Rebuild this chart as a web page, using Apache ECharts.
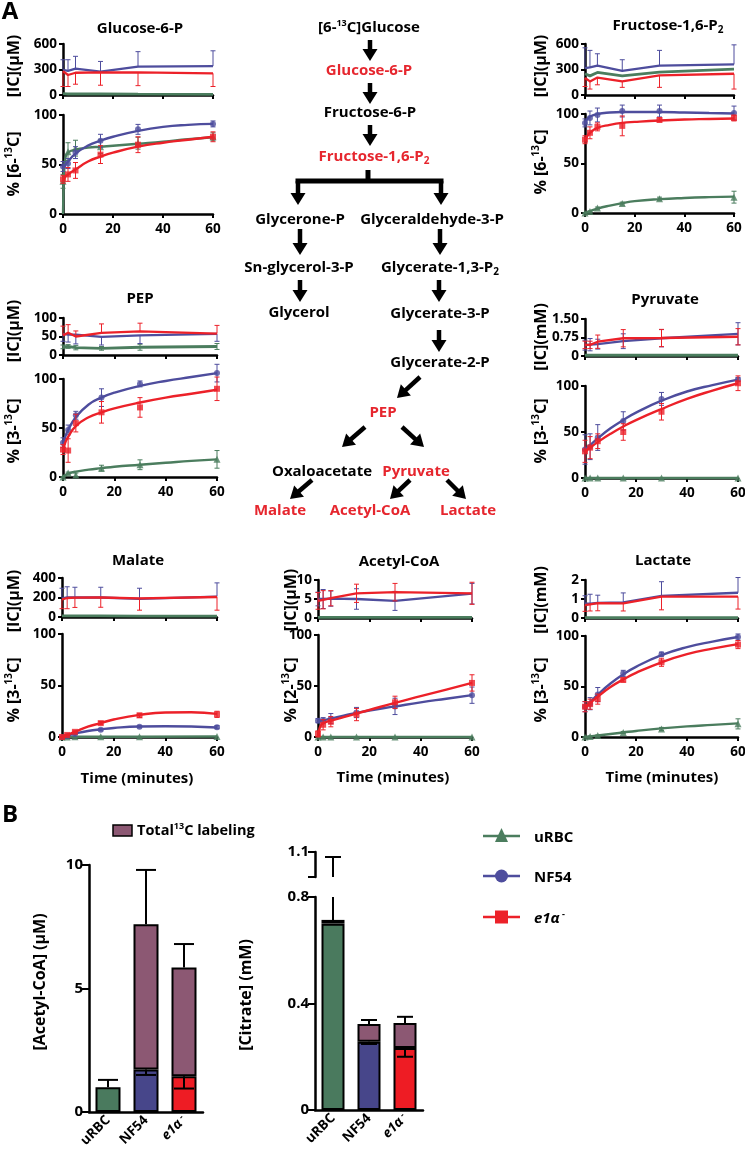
<!DOCTYPE html>
<html><head><meta charset="utf-8">
<script src="https://cdn.jsdelivr.net/npm/echarts@6/dist/echarts.min.js"></script>
<style>html,body{margin:0;padding:0;background:#fff}#c{width:745px;height:1152px}</style>
</head><body><div id="c"></div>
<script>
// ---------------- DATA ----------------
const T = [0, 2, 5, 15, 30, 60];
const FT = [0, 0.5, 1, 2, 5, 10, 15, 20, 30, 40, 50, 60];

// Glucose-6-P
const g6pIcU = [15, 12, 12, 12, 10, 8];
const g6pIcN = [295, 285, 310, 275, 335, 340];
const g6pIcNErr = [120, 130, 145, 120, 175, 180];
const g6pIcE = [280, 235, 262, 265, 265, 255];
const g6pIcEErr = [180, 135, 135, 150, 155, 155];
const g6pLabU = [33, 63, 66.5, 68, 71.5, 78];
const g6pLabUErr = [7, 9, 8, 7, 6, 4];
const g6pLabN = [48, 51, 62, 74, 85.5, 91];
const g6pLabNErr = [5, 5, 6, 6.5, 5, 3];
const g6pLabE = [35, 40, 44, 60, 70, 78];
const g6pLabEErr = [4, 7, 8, 9, 8, 5];
const g6pFitU = [0, 45, 57, 62, 65, 67, 68, 69, 71, 73, 75.5, 77.5];
const g6pFitN = [47, 48, 50, 53, 61, 69, 74, 78, 84, 88, 90, 91];
const g6pFitE = [34, 36, 38, 40, 45, 53, 58, 62, 68, 72, 75, 78];

// Fructose-1,6-P2
const f16IcU = [250, 225, 265, 225, 270, 305];
const f16IcN = [315, 325, 345, 285, 345, 360];
const f16IcNErr = [240, 200, 140, 130, 180, 230];
const f16IcE = [200, 160, 205, 160, 230, 250];
const f16IcEErr = [100, 90, 85, 70, 140, 180];
const f16LabU = [0, 1.5, 5, 9.5, 14.5, 16];
const f16LabUErr = [0, 0.5, 1, 1.5, 1.5, 6];
const f16LabN = [91, 96, 99, 103, 103, 101];
const f16LabNErr = [4, 7, 7, 6, 6, 7];
const f16LabE = [74, 81, 87, 88, 94, 96];
const f16LabEErr = [4, 6, 4, 10, 2, 3];
const f16FitU = [0, 0.5, 1, 2, 4.5, 7.5, 10, 12, 14, 15.2, 16, 16.5];
const f16FitN = [90, 93, 95, 97.5, 100, 101.5, 102, 102, 102, 101.5, 101, 100.5];
const f16FitE = [73, 76, 78, 81, 86, 89, 91, 92, 93.5, 94.5, 95, 95.5];

// PEP
const pepIcU = [22, 23, 20, 18, 21, 23];
const pepIcUErr = [5, 5, 6, 5, 8, 8];
const pepIcN = [57, 55, 55, 49, 53, 57];
const pepIcNErr = [20, 20, 25, 22, 22, 20];
const pepIcE = [53, 60, 50, 60, 64, 58];
const pepIcEErr = [25, 22, 15, 24, 22, 22];
const pepLabU = [0, 4, 2, 9, 12.5, 18];
const pepLabUErr = [0, 1, 2, 3, 5, 9];
const pepLabN = [35, 48, 63, 81, 95, 106];
const pepLabNErr = [5, 5, 4, 9, 3, 9];
const pepLabE = [28, 27, 55, 66, 71, 90];
const pepLabEErr = [5, 12, 9, 11, 10, 12];
const pepFitU = [0, 1, 2, 3.5, 5.5, 7.5, 9, 10.5, 12.5, 14.5, 16.5, 18];
const pepFitN = [30, 37, 42, 48, 61, 74, 81, 86, 93, 98, 102, 106];
const pepFitE = [25, 32, 36, 41, 52, 61, 66, 70, 76, 81, 85, 89];

// Pyruvate
const pyrIcU = [0.03, 0.03, 0.03, 0.03, 0.03, 0.03];
const pyrIcN = [0.44, 0.46, 0.48, 0.6, 0.72, 0.9];
const pyrIcNErr = [0.2, 0.25, 0.2, 0.3, 0.35, 0.45];
const pyrIcE = [0.45, 0.45, 0.58, 0.72, 0.73, 0.78];
const pyrIcEErr = [0.15, 0.15, 0.27, 0.35, 0.35, 0.33];
const pyrLabU = [0, 0, 0, 0, 0, 0];
const pyrLabN = [31, 34, 44, 62, 86, 107];
const pyrLabNErr = [16, 14, 14, 10, 7, 2];
const pyrLabE = [29, 33, 40, 50, 72, 103];
const pyrLabEErr = [12, 12, 8, 9, 9, 8];
const pyrFitN = [30, 31.5, 33, 35.5, 43, 54, 63, 71, 84, 94, 101, 107];
const pyrFitE = [28, 29.5, 31, 33, 39, 48, 56, 63, 75, 86, 95, 103];

// Malate
const malIcU = [12, 12, 12, 12, 10, 10];
const malIcN = [190, 200, 200, 200, 185, 210];
const malIcNErr = [105, 110, 105, 105, 110, 140];
const malIcE = [180, 195, 198, 200, 190, 205];
const malIcEErr = [95, 110, 100, 100, 120, 135];
const malLabU = [0, 0, 0.2, 0.3, 0.3, 0.5];
const malLabN = [0, 1, 3, 7, 10, 9.5];
const malLabNErr = [0.3, 0.5, 0.5, 1, 1, 1.5];
const malLabE = [0, 2, 5, 13.5, 21, 22];
const malLabEErr = [0.5, 0.5, 1, 1.5, 2, 3];
const malFitN = [0, 0.3, 0.7, 1.4, 3.3, 5.8, 7.5, 8.8, 10.2, 10.5, 10.2, 9.2];
const malFitE = [0, 0.4, 0.9, 2, 5, 10, 13.5, 17, 21.5, 23.8, 24, 22.5];

// Acetyl-CoA
const acIcU = [0.15, 0.15, 0.15, 0.15, 0.15, 0.15];
const acIcN = [5, 5, 5.1, 5, 4.5, 6.4];
const acIcNErr = [1.8, 2.5, 2, 2.7, 2.5, 2.7];
const acIcE = [4.5, 4.8, 5.2, 6.5, 6.8, 6.5];
const acIcEErr = [2.2, 2.4, 2, 2.4, 2.3, 2.9];
const acLabU = [0, 0, 0, 0, 0, 0];
const acLabN = [16, 16, 18, 24, 30, 41];
const acLabNErr = [2, 3, 5, 5, 8, 8];
const acLabE = [3, 12, 15, 22, 34, 53];
const acLabEErr = [3, 5, 5, 6, 6, 8];
const acFitN = [15, 15.5, 16, 16.5, 18, 21, 23.5, 26, 30, 34, 37.5, 41];
const acFitE = [0, 7, 11, 13.5, 16, 19.5, 23, 26.5, 33.5, 40, 46.5, 53];

// Lactate
const lacIcU = [0.02, 0.02, 0.02, 0.02, 0.02, 0.02];
const lacIcN = [0.75, 0.75, 0.8, 0.82, 1.16, 1.33];
const lacIcNErr = [0.42, 0.5, 0.4, 0.5, 0.75, 0.8];
const lacIcE = [0.68, 0.72, 0.78, 0.77, 1.13, 1.13];
const lacIcEErr = [0.33, 0.35, 0.4, 0.4, 0.7, 0.66];
const lacLabU = [0, 0.5, 1.5, 4.5, 8, 13];
const lacLabUErr = [0, 0.5, 0.5, 1, 1.5, 5];
const lacLabN = [30, 33, 42, 63, 82, 99];
const lacLabNErr = [5, 6, 7, 3, 2, 3];
const lacLabE = [30, 32.5, 37.5, 56.5, 74, 91.5];
const lacLabEErr = [5, 5, 5, 2, 4, 4];
const lacFitU = [0, 0.1, 0.3, 0.6, 1.5, 3, 4.5, 6, 8.5, 10.5, 12, 13.5];
const lacFitN = [29, 30.5, 32, 34.5, 42, 53, 62, 69.5, 81, 89, 94.5, 99];
const lacFitE = [29, 30.5, 31.5, 33.5, 40, 49.5, 57, 63.5, 74, 82, 87.5, 92];

// Panel B
const barCats = ['uRBC', 'NF54', 'e1α'];
const acUnlab = [1.0, 1.72, 1.45];
const acUnlabErr = [0, 0.22, 0.5];
const acLab = [0, 5.88, 4.4];
const acTotalErr = [0.3, 2.2, 0.95];
const citUnlab = [0.70, 0.256, 0.233];
const citUnlabErr = [0, 0.008, 0.033];
const citLab = [0.014, 0.067, 0.094];
const citTotalErr = [0.366, 0.015, 0.023];

// ---------------- STYLE / LAYOUT ----------------
const FONT = 'Open Sans';
const COL = {u:'#4b7d5e', n:'#4e4d9d', e:'#ec2129'};
const BARC = ['#4a7a5e', '#47468a', '#ee1c24'];
const PUR = '#8c5873';
const RED = '#e6262e';
const SYM = {u:'triangle', n:'circle', e:'rect'};
const SYMS = {u:7, n:6, e:6};
const ZO = {u:3, n:4, e:5};
const TS = 15;   // text size
const NS = 16;   // axis-name size

function merge(a, b) {
  const r = Object.assign({}, a);
  for (const k in b) {
    if (b[k] && typeof b[k] === 'object' && !Array.isArray(b[k]) && a[k] && typeof a[k] === 'object') r[k] = merge(a[k], b[k]);
    else r[k] = b[k];
  }
  return r;
}
const axisBase = {
  axisLine:{show:true, onZero:false, lineStyle:{color:'#000', width:2.5}},
  axisTick:{show:true, length:4, lineStyle:{color:'#000', width:2}},
  splitLine:{show:false},
  axisLabel:{color:'#000', fontFamily:FONT, fontWeight:'bold', fontSize:13.5, margin:6}
};
const grids = [], xAxes = [], yAxes = [], series = [];
function addGrid(rect, xo, yo) {
  const i = grids.length;
  grids.push({left:rect[0], top:rect[1], width:rect[2], height:rect[3], outerBoundsMode:'none', containLabel:false});
  xAxes.push(merge(merge(axisBase, {gridIndex:i}), xo));
  yAxes.push(merge(merge(axisBase, {gridIndex:i}), yo));
  return i;
}
function errData(xs, vals, errs, side) {
  return xs.map((t, k) => {
    const v = vals[k], e = errs[k];
    const lo = side === 'up' ? v : v - e;
    const hi = side === 'down' ? v : v + e;
    return [t, lo, hi, side !== 'up' ? 1 : 0, side !== 'down' ? 1 : 0];
  });
}
function errSeries(gi, data, color, w, lw, z) {
  return {type:'custom', xAxisIndex:gi, yAxisIndex:gi, data, clip:false, z, silent:true,
    renderItem:(params, api) => {
      const x = api.value(0), lo = api.value(1), hi = api.value(2);
      const a = api.coord([x, lo]), b = api.coord([x, hi]);
      const st = {stroke:color, lineWidth:lw};
      const ch = [{type:'line', shape:{x1:a[0], y1:a[1], x2:b[0], y2:b[1]}, style:st}];
      if (api.value(3)) ch.push({type:'line', shape:{x1:a[0]-w, y1:a[1], x2:a[0]+w, y2:a[1]}, style:st});
      if (api.value(4)) ch.push({type:'line', shape:{x1:b[0]-w, y1:b[1], x2:b[0]+w, y2:b[1]}, style:st});
      return {type:'group', children:ch};
    }};
}

const panels = [
  {title:'{m|Glucose-6-P}', tx:140, ty:29, lx:14, icLy:66, labLy:164, up:[63,44,150,51], lo:[63,115,150,99],
   icMax:600, icInt:300, icName:'[IC](µM)', iso:'6', time:null,
   ic:{u:[g6pIcU,null,null], n:[g6pIcN,g6pIcNErr,'up'], e:[g6pIcE,g6pIcEErr,'down']},
   lab:{u:[g6pLabU,g6pLabUErr,g6pFitU], n:[g6pLabN,g6pLabNErr,g6pFitN], e:[g6pLabE,g6pLabEErr,g6pFitE]}},
  {title:'{m|Fructose-1,6-P}{b|2}', tx:668, ty:26, lx:541, icLy:66, labLy:162, up:[585,44,149,51], lo:[585,114,149,99],
   icMax:600, icInt:300, icName:'[IC](µM)', iso:'6', time:null,
   ic:{u:[f16IcU,null,null], n:[f16IcN,f16IcNErr,'up'], e:[f16IcE,f16IcEErr,'down']},
   lab:{u:[f16LabU,f16LabUErr,f16FitU], n:[f16LabN,f16LabNErr,f16FitN], e:[f16LabE,f16LabEErr,f16FitE]}},
  {title:'{m|PEP}', tx:140, ty:299, lx:14, icLy:331, labLy:431, up:[63,318,154,37], lo:[63,379,154,98],
   icMax:100, icInt:50, icName:'[IC](µM)', iso:'3', time:null,
   ic:{u:[pepIcU,pepIcUErr,'both'], n:[pepIcN,pepIcNErr,'down'], e:[pepIcE,pepIcEErr,'up']},
   lab:{u:[pepLabU,pepLabUErr,pepFitU], n:[pepLabN,pepLabNErr,pepFitN], e:[pepLabE,pepLabEErr,pepFitE]}},
  {title:'{m|Pyruvate}', tx:665, ty:300, lx:541, icLy:337, labLy:431, up:[585,319,153,37], lo:[585,386,153,92],
   icMax:1.5, icInt:0.75, icName:'[IC](mM)', iso:'3', time:null, icFmt:v => v === 0 ? '0' : v.toFixed(2),
   ic:{u:[pyrIcU,null,null], n:[pyrIcN,pyrIcNErr,'both'], e:[pyrIcE,pyrIcEErr,'both']},
   lab:{u:[pyrLabU,null,null], n:[pyrLabN,pyrLabNErr,pyrFitN], e:[pyrLabE,pyrLabEErr,pyrFitE]}},
  {title:'{m|Malate}', tx:138, ty:561, lx:14, icLy:601, labLy:690, up:[62,578,155,39], lo:[62,634,155,103],
   icMax:400, icInt:200, icName:'[IC](µM)', iso:'3', time:[137,779],
   ic:{u:[malIcU,null,null], n:[malIcN,malIcNErr,'up'], e:[malIcE,malIcEErr,'down']},
   lab:{u:[malLabU,null,null], n:[malLabN,malLabNErr,malFitN], e:[malLabE,malLabEErr,malFitE]}},
  {title:'{m|Acetyl-CoA}', tx:399, ty:562, lx:291, icLy:600, labLy:690, up:[318,580,154,38], lo:[318,635,154,102],
   icMax:10, icInt:5, icName:'[IC](µM)', iso:'2', time:[393,778],
   ic:{u:[acIcU,null,null], n:[acIcN,acIcNErr,'both'], e:[acIcE,acIcEErr,'both']},
   lab:{u:[acLabU,null,null], n:[acLabN,acLabNErr,acFitN], e:[acLabE,acLabEErr,acFitE]}},
  {title:'{m|Lactate}', tx:663, ty:561, lx:541, icLy:600, labLy:690, up:[585,580,153,38], lo:[585,636,153,101],
   icMax:2, icInt:1, icName:'[IC](mM)', iso:'3', time:[662,778],
   ic:{u:[lacIcU,null,null], n:[lacIcN,lacIcNErr,'up'], e:[lacIcE,lacIcEErr,'down']},
   lab:{u:[lacLabU,lacLabUErr,lacFitU], n:[lacLabN,lacLabNErr,lacFitN], e:[lacLabE,lacLabEErr,lacFitE]}}
];

const G = [];
function rich(size, color) {
  return {
    m:{fontSize:size, fontWeight:'bold', fontFamily:FONT, fill:color, lineHeight:size+4},
    s:{fontSize:Math.round(size*0.62), fontWeight:'bold', fontFamily:FONT, fill:color, verticalAlign:'top'},
    b:{fontSize:Math.round(size*0.68), fontWeight:'bold', fontFamily:FONT, fill:color, verticalAlign:'bottom'},
    i:{fontSize:size, fontWeight:'bold', fontStyle:'italic', fontFamily:FONT, fill:color, lineHeight:size+4}
  };
}
function txt(text, x, y, size, color, opts) {
  opts = opts || {};
  G.push({type:'text', x, y, rotation:opts.rot || 0, silent:true, z:10,
    style:{text, rich:rich(size, color), align:opts.align || 'center', verticalAlign:'middle', fill:color,
           fontSize:size, fontWeight:'bold', fontFamily:FONT}});
}

panels.forEach(p => {
  const gu = addGrid(p.up,
    {type:'value', min:0, max:60, interval:20, axisLabel:{show:false}},
    {type:'value', min:0, max:p.icMax, interval:p.icInt, axisLabel:p.icFmt ? {formatter:p.icFmt} : {}});
  const gl = addGrid(p.lo,
    {type:'value', min:0, max:60, interval:20, axisLabel:{margin:8}},
    {type:'value', min:0, max:100, interval:50});
  ['u','n','e'].forEach(s => {
    const [vals, errs, side] = p.ic[s];
    series.push({type:'line', xAxisIndex:gu, yAxisIndex:gu, data:T.map((t,k) => [t, vals[k]]), symbol:'none',
      lineStyle:{color:COL[s], width:s === 'u' ? 2.8 : 2.3}, itemStyle:{color:COL[s]}, z:ZO[s], clip:false, silent:true});
    if (errs) series.push(errSeries(gu, errData(T, vals, errs, side), COL[s], 2.5, 1, ZO[s]));
  });
  ['u','n','e'].forEach(s => {
    const [vals, errs, fit] = p.lab[s];
    series.push({type:'line', xAxisIndex:gl, yAxisIndex:gl,
      data: fit ? FT.map((t,k) => [t, fit[k]]) : T.map((t,k) => [t, vals[k]]),
      smooth: fit ? 0.5 : false, symbol:'none',
      lineStyle:{color:COL[s], width:2.4}, itemStyle:{color:COL[s]}, z:ZO[s], clip:false, silent:true});
    series.push({type:'scatter', xAxisIndex:gl, yAxisIndex:gl, data:T.map((t,k) => [t, vals[k]]),
      symbol:SYM[s], symbolSize:SYMS[s], itemStyle:{color:COL[s]}, z:ZO[s], clip:false, silent:true});
    if (errs) series.push(errSeries(gl, errData(T, vals, errs, 'both'), COL[s], 2.5, 1, ZO[s]));
  });
  txt(p.title, p.tx, p.ty, TS, '#000');
  txt('{m|' + p.icName + '}', p.lx, p.icLy, NS, '#000', {rot:Math.PI/2});
  txt('{m|% [' + p.iso + '-}{s|13}{m|C]}', p.lx, p.labLy, NS, '#000', {rot:Math.PI/2});
  if (p.time) txt('{m|Time (minutes)}', p.time[0], p.time[1], TS, '#000');
});

// ---------- Panel B bars ----------
const catLabel = {
  formatter: v => v === 'e1α' ? '{i|e1α}{s| -}' : '{m|' + v + '}',
  rotate:45, margin:6, interval:0,
  rich:{
    m:{fontSize:13.5, fontWeight:'bold', fontFamily:FONT, color:'#000'},
    i:{fontSize:13.5, fontWeight:'bold', fontStyle:'italic', fontFamily:FONT, color:'#000'},
    s:{fontSize:9, fontWeight:'bold', fontFamily:FONT, color:'#000', verticalAlign:'top'}
  }
};
function barSeries(gi, unlab, lab, bw, stack) {
  series.push({type:'bar', xAxisIndex:gi, yAxisIndex:gi, stack, barWidth:bw, silent:true,
    data:unlab.map((v,i) => ({value:v, itemStyle:{color:BARC[i]}})),
    itemStyle:{borderColor:'#000', borderWidth:2}});
  series.push({type:'bar', xAxisIndex:gi, yAxisIndex:gi, stack, barWidth:bw, silent:true,
    data:lab.map(v => v > 0 ? v : '-'),
    itemStyle:{color:PUR, borderColor:'#000', borderWidth:2}});
}
// Acetyl-CoA bars
const gA = addGrid([89, 865, 114, 247],
  {type:'category', data:barCats, axisTick:{show:false}, axisLabel:catLabel},
  {type:'value', min:0, max:10, interval:5, axisTick:{length:7}, axisLabel:{fontSize:15, margin:6}, axisLine:{lineStyle:{width:2.5}}});
barSeries(gA, acUnlab, acLab, 25, 'ac');
series.push(errSeries(gA, barCats.map((c,i) => { const tot = acUnlab[i] + acLab[i]; return [i, tot, tot + acTotalErr[i], 0, 1]; }), '#000', 10, 2, 6));
series.push(errSeries(gA, barCats.map((c,i) => [i, acUnlab[i] - acUnlabErr[i], acUnlab[i], acUnlabErr[i] > 0 ? 1 : 0, 0]).filter((d,i) => acUnlabErr[i] > 0), '#000', 10, 2, 6));

// Citrate bars (broken axis: lower 0-0.8, upper 1.0-1.1)
const CIT_LMAX = 0.8, CIT_UMIN = 1.0, CIT_UMAX = 1.1;
const gC = addGrid([315, 897, 108, 213],
  {type:'category', data:barCats, axisTick:{show:false}, axisLabel:catLabel},
  {type:'value', min:0, max:CIT_LMAX, interval:0.4, axisTick:{length:7}, axisLabel:{fontSize:15, margin:6, formatter:v => v === 0 ? '0' : v.toFixed(1)}, axisLine:{lineStyle:{width:2.5}}});
const gC2 = addGrid([315, 852, 108, 25],
  {type:'category', data:barCats, axisLine:{show:false}, axisTick:{show:false}, axisLabel:{show:false}},
  {type:'value', min:CIT_UMIN, max:CIT_UMAX, interval:0.1, axisTick:{length:7}, axisLine:{lineStyle:{width:2.5}},
   axisLabel:{fontSize:15, margin:6, formatter:v => Math.abs(v - CIT_UMAX) < 1e-6 ? '1.1' : ''}});
barSeries(gC, citUnlab, citLab, 23, 'cit');
const citLowErr = [], citUpErr = [];
barCats.forEach((c,i) => {
  const tot = citUnlab[i] + citLab[i], hi = tot + citTotalErr[i];
  if (hi > CIT_LMAX) { citLowErr.push([i, tot, CIT_LMAX, 0, 0]); citUpErr.push([i, CIT_UMIN, hi, 0, 1]); }
  else citLowErr.push([i, tot, hi, 0, 1]);
});
series.push(errSeries(gC, citLowErr, '#000', 8, 2, 6));
series.push(errSeries(gC2, citUpErr, '#000', 8, 2, 6));
series.push(errSeries(gC, barCats.map((c,i) => [i, citUnlab[i] - citUnlabErr[i], citUnlab[i], 1, 0]).filter((d,i) => citUnlabErr[i] > 0), '#000', 8, 2, 6));

// ---------- Texts and pathway ----------
txt('{m|A}', 10, 12, 24, '#000');
txt('{m|B}', 10, 815, 24, '#000');
txt('{m|[Acetyl-CoA] (µM)}', 40, 982, NS, '#000', {rot:Math.PI/2});
txt('{m|[Citrate] (mM)}', 246, 995, NS, '#000', {rot:Math.PI/2});
G.push({type:'rect', shape:{x:113, y:825, width:19, height:11}, style:{fill:PUR, stroke:'#000', lineWidth:1.5}, z:10});
txt('{m|Total}{s|13}{m|C labeling}', 137, 831, 14.5, '#000', {align:'left'});

// right legend
[['u', 836, '{m|uRBC}'], ['n', 876, '{m|NF54}'], ['e', 917, '{i|e1α}{s| -}']].forEach(([s, y, label]) => {
  G.push({type:'line', shape:{x1:483, y1:y, x2:520, y2:y}, style:{stroke:COL[s], lineWidth:2.7}, z:10});
  if (s === 'u') G.push({type:'polygon', shape:{points:[[501.5, y-8], [495, y+6], [508, y+6]]}, style:{fill:COL[s]}, z:11});
  if (s === 'n') G.push({type:'circle', shape:{cx:501.5, cy:y, r:6.5}, style:{fill:COL[s]}, z:11});
  if (s === 'e') G.push({type:'rect', shape:{x:495, y:y-6.5, width:13, height:13}, style:{fill:COL[s]}, z:11});
  txt(label, 534, y + 2, TS, '#000', {align:'left'});
});

function arrow(x1, y1, x2, y2) {
  const dx = x2 - x1, dy = y2 - y1, L = Math.hypot(dx, dy), ux = dx / L, uy = dy / L;
  const hl = 12, hw = 15;
  const bx = x2 - ux * hl, by = y2 - uy * hl, px = -uy, py = ux;
  G.push({type:'line', shape:{x1, y1, x2:bx + ux, y2:by + uy}, style:{stroke:'#000', lineWidth:4.5}, z:10});
  G.push({type:'polygon', shape:{points:[[x2, y2], [bx + px*hw/2, by + py*hw/2], [bx - px*hw/2, by - py*hw/2]]}, style:{fill:'#000'}, z:10});
}
const K = '#000';
txt('{m|[6-}{s|13}{m|C]Glucose}', 369, 28, TS, K);
arrow(370, 40, 370, 61);
txt('{m|Glucose-6-P}', 369, 71, TS, RED);
arrow(370, 83, 370, 104);
txt('{m|Fructose-6-P}', 370, 113, TS, K);
arrow(370, 125, 370, 146);
txt('{m|Fructose-1,6-P}{b|2}', 374, 157, TS, RED);
G.push({type:'polyline', shape:{points:[[368, 170], [368, 181]]}, style:{stroke:'#000', lineWidth:5}, z:10});
G.push({type:'polyline', shape:{points:[[298, 181], [441, 181]]}, style:{stroke:'#000', lineWidth:5, lineCap:'square'}, z:10});
arrow(298, 181, 298, 205);
arrow(441, 181, 441, 205);
txt('{m|Glycerone-P}', 300, 220, TS, K);
txt('{m|Glyceraldehyde-3-P}', 432, 220, TS, K);
arrow(300, 229, 300, 255);
arrow(440, 229, 440, 255);
txt('{m|Sn-glycerol-3-P}', 299, 268, TS, K);
txt('{m|Glycerate-1,3-P}{b|2}', 440, 268, TS, K);
arrow(300, 280, 300, 302);
arrow(439, 280, 439, 302);
txt('{m|Glycerol}', 299, 313, TS, K);
txt('{m|Glycerate-3-P}', 440, 314, TS, K);
arrow(439, 330, 439, 352);
txt('{m|Glycerate-2-P}', 440, 363, TS, K);
arrow(420, 377, 397, 398);
txt('{m|PEP}', 383, 413, TS, RED);
arrow(365, 427, 342, 447);
arrow(402, 427, 424, 447);
txt('{m|Oxaloacetate}', 322, 472, TS, K);
txt('{m|Pyruvate}', 416, 472, TS, RED);
arrow(312, 480, 290, 499);
arrow(410, 480, 390, 499);
arrow(447, 480, 466, 499);
txt('{m|Malate}', 280, 511, TS, RED);
txt('{m|Acetyl-CoA}', 370, 511, TS, RED);
txt('{m|Lactate}', 468, 511, TS, RED);

const chart = echarts.init(document.getElementById('c'), null, {renderer:'canvas'});
chart.setOption({animation:false, backgroundColor:'#fff', grid:grids, xAxis:xAxes, yAxis:yAxes, series, graphic:{elements:G}});
</script>
</body></html>
